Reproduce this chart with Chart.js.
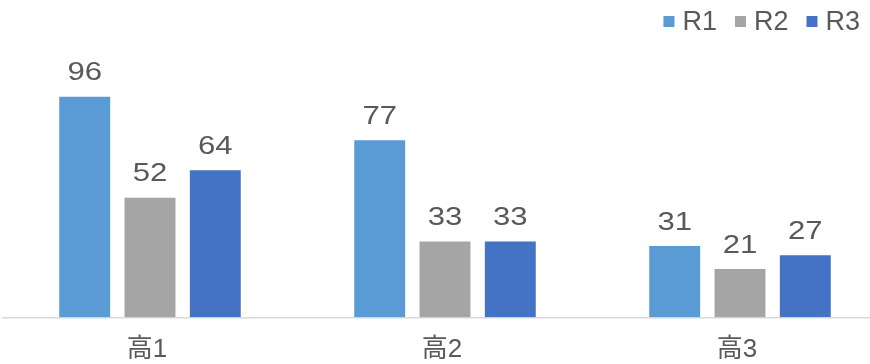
<!DOCTYPE html>
<html>
<head>
<meta charset="utf-8">
<script src="https://cdn.jsdelivr.net/npm/chart.js@4/dist/chart.umd.min.js"></script>
<style>
  html, body { margin: 0; padding: 0; background: #fff; }
  /* the plot runs a little past the right edge, so the canvas is wider than the view */
  #wrap { width: 870px; height: 364px; overflow: hidden; }
</style>
</head>
<body>
<div id="wrap"><canvas id="chart" width="888" height="364"></canvas></div>
<script>
const grades = ['高1', '高2', '高3'];
const seriesNames = ['R1', 'R2', 'R3'];
const r1Values = [96, 77, 31];
const r2Values = [52, 33, 21];
const r3Values = [64, 33, 27];
const seriesColors = ['#5B9BD5', '#A5A5A5', '#4472C4'];

const textColor = '#595959';
const latin = "'Liberation Sans', 'Noto Sans CJK JP', sans-serif";

// value text above each bar, drawn with wide digits
const barValues = {
    id: 'barValues',
    afterDatasetsDraw(chart) {
        const ctx = chart.ctx;
        ctx.save();
        ctx.font = '25.5px ' + latin;
        ctx.fillStyle = textColor;
        ctx.textAlign = 'center';
        ctx.textBaseline = 'alphabetic';
        chart.data.datasets.forEach((ds, i) => {
            chart.getDatasetMeta(i).data.forEach((bar, j) => {
                ctx.save();
                ctx.translate(bar.x, bar.y - 16.5);
                ctx.scale(1.22, 1);
                ctx.fillText(String(ds.data[j]), 0, 0);
                ctx.restore();
            });
        });
        ctx.restore();
    }
};

// small square-marker legend, right aligned in the top strip
const topLegend = {
    id: 'topLegend',
    afterDraw(chart) {
        const ctx = chart.ctx;
        const box = 11, gap = 8, spacing = 18, right = 860, midY = 21.5;
        ctx.save();
        ctx.font = '27px ' + latin;
        ctx.textBaseline = 'middle';
        ctx.textAlign = 'left';
        const items = chart.data.datasets.map(ds => ({
            label: ds.label,
            color: ds.backgroundColor,
            w: box + gap + ctx.measureText(ds.label).width
        }));
        const total = items.reduce((s, it) => s + it.w, 0) + spacing * (items.length - 1);
        let x = right - total;
        items.forEach(it => {
            ctx.fillStyle = it.color;
            ctx.fillRect(x, midY - box / 2, box, box);
            ctx.fillStyle = textColor;
            ctx.fillText(it.label, x + box + gap, midY + 1);
            x += it.w + spacing;
        });
        ctx.restore();
    }
};

const datasets = [r1Values, r2Values, r3Values].map((values, i) => ({
    label: seriesNames[i],
    data: values,
    backgroundColor: seriesColors[i],
    borderWidth: 0,
    categoryPercentage: 0.664,
    barPercentage: 0.78
}));

new Chart(document.getElementById('chart'), {
    type: 'bar',
    data: { labels: grades, datasets: datasets },
    options: {
        responsive: false,
        animation: false,
        devicePixelRatio: 1,
        layout: { padding: { top: 41.5, left: 2.5, right: 0.5, bottom: 0 } },
        plugins: {
            legend: { display: false },
            tooltip: { enabled: false }
        },
        scales: {
            x: {
                grid: { display: false, drawTicks: false },
                border: { display: true, color: '#D9D9D9', width: 1.5 },
                ticks: {
                    color: textColor,
                    padding: 17,
                    labelOffset: -3,
                    font: { family: latin, size: 26 }
                },
                afterFit(scale) {
                    scale.height = 46.7;
                }
            },
            y: {
                display: false,
                min: 0,
                max: 120
            }
        }
    },
    plugins: [barValues, topLegend]
});
</script>
</body>
</html>
